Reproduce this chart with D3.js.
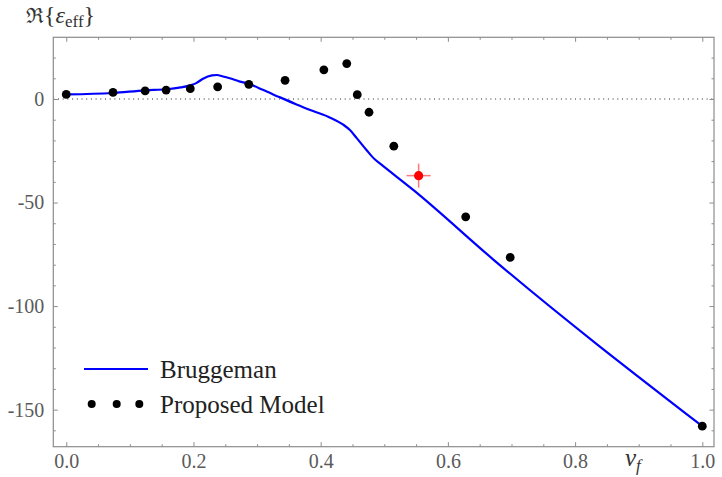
<!DOCTYPE html>
<html>
<head>
<meta charset="utf-8">
<script src="https://cdn.jsdelivr.net/npm/d3@7"></script>
<style>
  body { margin: 0; background: #fff; }
  svg text { font-family: "Liberation Serif", "Times New Roman", "DejaVu Serif", serif; }
</style>
</head>
<body>
<svg id="chart"></svg>
<script>
// Bruggeman curve (volume fraction v_f -> Re{eps_eff})
const bruggemanX = [0, 0.073, 0.124, 0.158, 0.18, 0.195, 0.205, 0.215, 0.229, 0.237, 0.245, 0.257, 0.273,
  0.284, 0.31, 0.336, 0.362, 0.388, 0.415, 0.4355, 0.446, 0.457, 0.472, 0.485, 0.493, 0.546, 0.671, 1.0];
const bruggemanY = [2.2, 2.9, 4.2, 4.7, 5.6, 6.6, 7.8, 9.8, 11.4, 11.6, 11.0, 10, 8.4,
  7.6, 4.3, 0.8, -2.6, -5.8, -9.0, -12.4, -15, -19, -24.6, -29.1, -31.1, -44, -77.4, -158];

// proposed model points
const modelX = [0, 0.0735, 0.124, 0.157, 0.195, 0.238, 0.287, 0.344, 0.405, 0.441, 0.4575, 0.476, 0.515, 0.628, 0.698, 1.0];
const modelY = [2.2, 3.2, 3.9, 4.3, 5.0, 5.9, 7.1, 9.0, 14.1, 17.1, 2.1, -6.4, -22.8, -56.9, -76.5, -158];

// highlighted measurement with error bars
const markX = [0.554];
const markY = [-37.0];
const markErrX = [0.019];
const markErrY = [5.8];

const xMajor = [0, 0.2, 0.4, 0.6, 0.8, 1.0];
const yMajor = [-150, -100, -50, 0];
const legendLabels = ["Bruggeman", "Proposed Model"];

const WIDTH = 722, HEIGHT = 477;
const FRAME = { left: 53.3, right: 714, top: 37.3, bottom: 446.7 };
const FRAME_COLOR = "#8c8c8c";
const LABEL_COLOR = "#5a5a5a";
const SERIF = "'Liberation Serif', 'Times New Roman', 'DejaVu Serif', serif";

const svg = d3.select("#chart").attr("width", WIDTH).attr("height", HEIGHT);

const x = d3.scaleLinear().domain([-0.0204, 1.0184]).range([FRAME.left, FRAME.right]);
const y = d3.scaleLinear().domain([-167.9, 29.8]).range([FRAME.bottom, FRAME.top]);

// minor tick positions
const xMinor = d3.range(0, 21).map(i => +(i * 0.05).toFixed(2)).filter(v => !xMajor.includes(v));
const yMinor = d3.range(-16, 3).map(i => i * 10).filter(v => !yMajor.includes(v));

// zero reference line (dotted)
svg.append("line")
  .attr("x1", FRAME.left).attr("x2", FRAME.right)
  .attr("y1", y(0)).attr("y2", y(0))
  .attr("stroke", "#222").attr("stroke-width", 1)
  .attr("stroke-dasharray", "1,3.7");

// frame axes, ticks pointing inwards
function styleAxis(g) {
  g.attr("font-family", SERIF);
  g.select(".domain").remove();
  g.selectAll(".tick line").attr("stroke", FRAME_COLOR);
  g.selectAll(".tick text").attr("fill", LABEL_COLOR).attr("font-size", 20).attr("font-family", SERIF);
}
const fmtX = d3.format(".1f");

svg.append("g").attr("transform", `translate(0,${FRAME.bottom})`)
  .call(d3.axisBottom(x).tickValues(xMajor).tickSize(-4.5).tickPadding(7).tickFormat(fmtX)).call(styleAxis);
svg.append("g").attr("transform", `translate(0,${FRAME.bottom})`)
  .call(d3.axisBottom(x).tickValues(xMinor).tickSize(-2.5).tickFormat("")).call(styleAxis);
svg.append("g").attr("transform", `translate(0,${FRAME.top})`)
  .call(d3.axisTop(x).tickValues(xMajor).tickSize(-4.5).tickFormat("")).call(styleAxis);
svg.append("g").attr("transform", `translate(0,${FRAME.top})`)
  .call(d3.axisTop(x).tickValues(xMinor).tickSize(-2.5).tickFormat("")).call(styleAxis);

svg.append("g").attr("transform", `translate(${FRAME.left},0)`)
  .call(d3.axisLeft(y).tickValues(yMajor).tickSize(-4.5).tickPadding(9).tickFormat(d => String(d))).call(styleAxis);
svg.append("g").attr("transform", `translate(${FRAME.left},0)`)
  .call(d3.axisLeft(y).tickValues(yMinor).tickSize(-2.5).tickFormat("")).call(styleAxis);
svg.append("g").attr("transform", `translate(${FRAME.right},0)`)
  .call(d3.axisRight(y).tickValues(yMajor).tickSize(-4.5).tickFormat("")).call(styleAxis);
svg.append("g").attr("transform", `translate(${FRAME.right},0)`)
  .call(d3.axisRight(y).tickValues(yMinor).tickSize(-2.5).tickFormat("")).call(styleAxis);

svg.append("rect")
  .attr("x", FRAME.left).attr("y", FRAME.top)
  .attr("width", FRAME.right - FRAME.left).attr("height", FRAME.bottom - FRAME.top)
  .attr("fill", "none").attr("stroke", FRAME_COLOR).attr("stroke-width", 1.2);

// Bruggeman curve
const line = d3.line().x(d => x(d[0])).y(d => y(d[1])).curve(d3.curveMonotoneX);
svg.append("path")
  .datum(d3.zip(bruggemanX, bruggemanY))
  .attr("d", line)
  .attr("fill", "none").attr("stroke", "#0000ff").attr("stroke-width", 2.2)
  .attr("stroke-linejoin", "round");

// proposed model points
svg.selectAll(".pt")
  .data(d3.zip(modelX, modelY))
  .enter().append("circle")
  .attr("class", "pt")
  .attr("cx", d => x(d[0])).attr("cy", d => y(d[1]))
  .attr("r", 4.4).attr("fill", "#000");

// red point with error bars
const marks = d3.zip(markX, markY, markErrX, markErrY);
const mg = svg.selectAll(".mark").data(marks).enter().append("g").attr("class", "mark");
mg.append("line")
  .attr("x1", d => x(d[0] - d[2])).attr("x2", d => x(d[0] + d[2]))
  .attr("y1", d => y(d[1])).attr("y2", d => y(d[1]))
  .attr("stroke", "#ff5555").attr("stroke-opacity", 0.8).attr("stroke-width", 1.5);
mg.append("line")
  .attr("x1", d => x(d[0])).attr("x2", d => x(d[0]))
  .attr("y1", d => y(d[1] - d[3])).attr("y2", d => y(d[1] + d[3]))
  .attr("stroke", "#ff5555").attr("stroke-opacity", 0.8).attr("stroke-width", 1.5);
mg.append("circle")
  .attr("cx", d => x(d[0])).attr("cy", d => y(d[1]))
  .attr("r", 4.6).attr("fill", "#ff0000");

// axis titles
const yTitle = svg.append("text").attr("x", 26).attr("y", 23)
  .attr("font-size", 24).attr("fill", "#333");
yTitle.append("tspan").attr("font-family", "'DejaVu Serif', serif").attr("font-size", 21).text("ℜ");
yTitle.append("tspan").text("{");
yTitle.append("tspan").attr("font-style", "italic").text("ε");
yTitle.append("tspan").attr("font-size", 17).attr("dy", 4).text("eff");
yTitle.append("tspan").attr("dy", -4).text("}");

const xTitle = svg.append("text").attr("x", 625).attr("y", 466)
  .attr("font-size", 25).attr("fill", "#333").attr("font-style", "italic");
xTitle.append("tspan").text("v");
xTitle.append("tspan").attr("font-size", 17).attr("dy", 5).text("f");

// legend
const lg = svg.append("g");
lg.append("line").attr("x1", 84).attr("x2", 148).attr("y1", 369).attr("y2", 369)
  .attr("stroke", "#0000ff").attr("stroke-width", 2.2);
lg.selectAll(".ldot").data([91.7, 116.7, 139.3]).enter().append("circle")
  .attr("cx", d => d).attr("cy", 404).attr("r", 4).attr("fill", "#000");
lg.selectAll(".ltext").data(legendLabels).enter().append("text")
  .attr("x", 160).attr("y", (d, i) => 378 + i * 35)
  .attr("font-size", 25).attr("fill", "#222")
  .text(d => d);
</script>
</body>
</html>
